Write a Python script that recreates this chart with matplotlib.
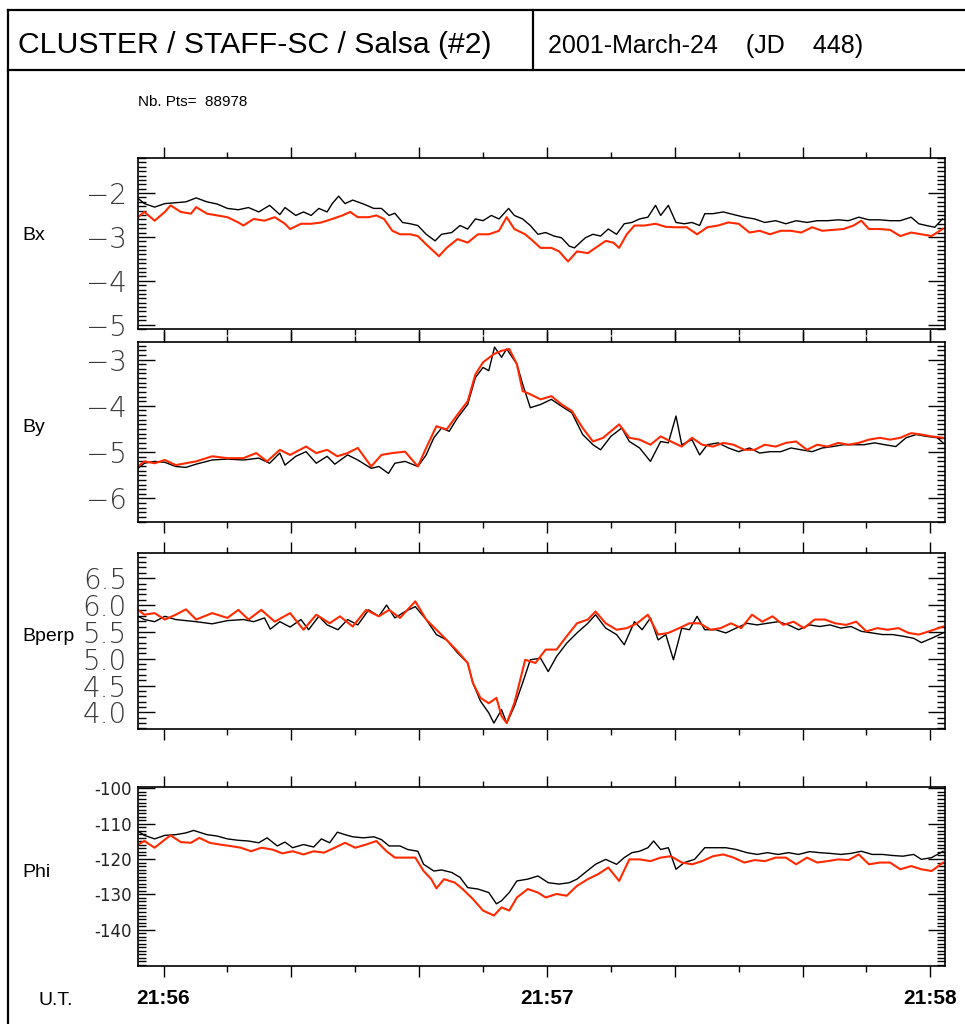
import matplotlib
matplotlib.use("Agg")
import matplotlib.pyplot as plt
from matplotlib.ticker import MultipleLocator, FixedLocator, FuncFormatter
from matplotlib.lines import Line2D

# time axis: seconds after 21:56:00 UT
bx_black_t = [-4.0, -3.0, -1.4, 0.2, 1.9, 3.5, 5.1, 6.8, 8.4, 10.0, 11.7, 13.3, 14.9, 16.6, 18.2, 19.0, 20.7, 21.9, 23.1, 24.3,
              25.6, 26.4, 27.4, 28.4, 29.6, 31.3, 32.9, 34.1, 35.3, 36.2, 37.4, 38.6, 39.8, 41.1, 42.5, 43.5, 45.1, 46.4, 47.6, 48.8,
              50.0, 51.3, 52.5, 54.0, 54.9, 56.2, 57.4, 58.6, 59.8, 61.1, 62.3, 63.5, 64.3, 66.0, 67.2, 68.4, 69.6, 70.9, 72.1, 73.3,
              74.5, 75.8, 77.0, 77.8, 79.0, 80.2, 81.5, 82.7, 83.9, 84.7, 86.0, 87.6, 89.2, 90.9, 92.5, 94.1, 95.8, 97.4, 99.0, 100.7,
              102.3, 103.9, 105.6, 107.2, 108.8, 110.4, 112.1, 113.7, 115.3, 117.0, 118.2, 119.4, 120.7, 121.9]
bx_black = [-2.12, -2.24, -2.32, -2.24, -2.22, -2.20, -2.11, -2.20, -2.25, -2.35, -2.38, -2.33, -2.43, -2.28, -2.49, -2.33, -2.51, -2.43, -2.51, -2.35,
            -2.43, -2.24, -2.07, -2.24, -2.16, -2.25, -2.35, -2.35, -2.51, -2.46, -2.67, -2.70, -2.74, -2.94, -3.09, -2.94, -2.90, -2.74, -2.82, -2.59,
            -2.63, -2.51, -2.59, -2.35, -2.51, -2.59, -2.74, -2.94, -2.90, -2.98, -3.02, -3.21, -3.25, -3.02, -2.94, -2.98, -2.82, -2.94, -2.70, -2.67,
            -2.59, -2.55, -2.28, -2.51, -2.28, -2.67, -2.70, -2.67, -2.74, -2.47, -2.47, -2.43, -2.49, -2.55, -2.59, -2.67, -2.63, -2.70, -2.63, -2.67,
            -2.63, -2.63, -2.61, -2.63, -2.55, -2.61, -2.61, -2.63, -2.63, -2.55, -2.70, -2.74, -2.78, -2.59]
bx_red_t = [-4.0, -3.0, -1.4, 0.2, 1.1, 2.7, 4.3, 5.1, 6.8, 8.4, 10.0, 11.7, 12.5, 14.1, 15.8, 17.4, 19.0, 19.8, 21.5, 23.1,
            24.7, 26.4, 28.0, 29.2, 30.4, 32.1, 33.3, 34.5, 35.8, 37.0, 38.6, 39.8, 41.1, 42.3, 43.1, 44.3, 46.0, 47.6, 49.2, 50.9,
            52.5, 53.7, 54.9, 56.6, 57.8, 59.0, 60.7, 61.9, 63.3, 64.7, 66.4, 68.0, 69.2, 70.4, 71.3, 72.5, 73.7, 75.3, 77.0, 78.6,
            80.2, 81.9, 83.5, 85.1, 86.8, 88.4, 90.0, 91.7, 93.3, 94.9, 96.6, 98.2, 99.8, 101.5, 103.1, 104.7, 106.4, 108.0, 109.2, 110.4,
            112.1, 113.7, 115.3, 117.0, 118.6, 120.2, 121.9]
bx_red = [-2.55, -2.43, -2.63, -2.43, -2.28, -2.43, -2.47, -2.32, -2.47, -2.51, -2.55, -2.67, -2.74, -2.59, -2.63, -2.55, -2.70, -2.82, -2.70, -2.70,
          -2.67, -2.59, -2.51, -2.43, -2.55, -2.55, -2.51, -2.59, -2.86, -2.94, -2.94, -2.98, -3.17, -3.33, -3.44, -3.25, -3.05, -3.13, -2.94, -2.94,
          -2.86, -2.55, -2.82, -2.94, -3.09, -3.25, -3.25, -3.33, -3.56, -3.33, -3.37, -3.21, -3.09, -3.13, -3.25, -2.94, -2.74, -2.74, -2.70, -2.77,
          -2.78, -2.78, -2.94, -2.78, -2.74, -2.67, -2.70, -2.90, -2.86, -2.94, -2.86, -2.86, -2.90, -2.78, -2.86, -2.84, -2.82, -2.74, -2.63, -2.82,
          -2.82, -2.84, -2.98, -2.90, -2.94, -2.98, -2.82]

by_black_t = [-4.0, -3.0, -1.4, 0.2, 1.9, 3.5, 5.1, 7.6, 10.0, 12.5, 14.9, 16.6, 18.2, 19.0, 20.7, 22.3, 23.9, 25.6, 26.8, 28.8,
              30.4, 32.5, 33.7, 35.2, 36.2, 37.8, 39.8, 41.1, 42.3, 43.5, 44.7, 46.0, 47.6, 48.8, 50.0, 50.9, 51.8, 52.9, 53.7, 55.3,
              56.2, 57.4, 59.0, 60.7, 62.3, 63.9, 65.6, 67.2, 68.4, 70.0, 71.7, 72.9, 74.5, 76.2, 77.8, 79.0, 80.2, 81.1, 82.7, 83.9,
              85.1, 86.8, 88.4, 90.0, 91.7, 93.3, 94.9, 96.6, 98.2, 99.8, 101.5, 103.1, 104.7, 106.4, 108.0, 109.6, 111.3, 112.9, 114.6, 116.2,
              117.8, 119.4, 121.1, 122.0]
by_black = [-5.35, -5.24, -5.20, -5.22, -5.31, -5.33, -5.26, -5.17, -5.15, -5.17, -5.13, -5.24, -5.02, -5.28, -5.09, -4.99, -5.24, -5.09, -5.26, -5.06,
            -5.17, -5.35, -5.31, -5.46, -5.24, -5.20, -5.31, -5.06, -4.69, -4.48, -4.55, -4.26, -3.97, -3.39, -3.17, -3.24, -2.73, -2.95, -2.77, -3.10,
            -3.53, -4.04, -3.97, -3.86, -4.01, -4.15, -4.62, -4.84, -4.95, -4.66, -4.48, -4.77, -4.91, -5.20, -4.77, -4.80, -4.22, -4.84, -4.73, -5.06,
            -4.84, -4.80, -4.91, -4.99, -4.91, -5.02, -4.99, -4.99, -4.91, -4.95, -4.99, -4.91, -4.88, -4.84, -4.84, -4.84, -4.80, -4.84, -4.88, -4.69,
            -4.62, -4.66, -4.69, -4.80]
by_red_t = [-4.0, -3.0, -1.4, 0.2, 1.9, 3.5, 5.1, 7.6, 10.0, 12.5, 14.5, 16.2, 18.2, 19.8, 22.3, 23.9, 25.6, 27.2, 28.8, 30.4,
            32.5, 34.1, 35.8, 37.8, 39.8, 41.1, 42.7, 44.3, 46.0, 47.6, 48.8, 50.0, 51.7, 52.9, 54.1, 55.3, 56.2, 57.4, 59.0, 60.7,
            62.3, 63.9, 65.6, 67.2, 68.8, 70.0, 71.3, 72.9, 74.5, 76.2, 77.8, 79.4, 81.1, 82.7, 84.3, 86.0, 87.6, 89.2, 90.9, 92.5,
            94.1, 95.8, 97.4, 99.0, 100.7, 102.3, 103.9, 105.6, 107.2, 108.8, 110.4, 112.1, 113.7, 115.3, 117.0, 118.6, 120.2, 122.0]
by_red = [-5.31, -5.20, -5.24, -5.17, -5.28, -5.24, -5.20, -5.09, -5.13, -5.13, -5.02, -5.20, -4.95, -5.06, -4.88, -5.02, -4.95, -5.09, -5.02, -4.91,
          -5.31, -5.06, -5.02, -4.99, -5.31, -4.91, -4.44, -4.51, -4.19, -3.90, -3.32, -3.06, -2.88, -2.81, -2.77, -3.10, -3.68, -3.75, -3.86, -3.79,
          -3.97, -4.11, -4.48, -4.77, -4.69, -4.55, -4.40, -4.69, -4.73, -4.84, -4.66, -4.77, -4.88, -4.69, -4.84, -4.88, -4.80, -4.84, -4.95, -4.95,
          -4.84, -4.88, -4.80, -4.77, -4.95, -4.84, -4.88, -4.80, -4.84, -4.80, -4.73, -4.69, -4.73, -4.69, -4.59, -4.62, -4.66, -4.69]

bperp_black_t = [-4.0, -3.0, -1.4, 0.2, 1.9, 3.5, 5.1, 7.6, 10.0, 12.5, 14.1, 15.8, 16.7, 18.2, 19.8, 21.5, 22.7, 24.3, 25.6, 27.3,
                 28.8, 30.4, 32.1, 33.7, 34.9, 36.2, 37.8, 39.4, 41.1, 42.7, 44.3, 46.0, 47.6, 48.4, 49.6, 50.9, 51.7, 52.9, 53.7, 54.9,
                 56.2, 57.4, 59.0, 60.2, 61.5, 63.1, 64.7, 66.4, 67.6, 69.2, 70.9, 72.1, 73.7, 74.9, 76.2, 77.4, 78.6, 79.8, 81.1, 82.3,
                 83.5, 84.7, 86.4, 88.0, 89.6, 91.3, 92.9, 94.5, 96.2, 97.8, 99.4, 101.1, 102.7, 104.3, 106.0, 107.6, 109.2, 110.9, 112.5, 114.1,
                 115.7, 117.4, 118.6, 120.2, 122.0]
bperp_black = [5.79, 5.73, 5.69, 5.79, 5.73, 5.71, 5.69, 5.65, 5.71, 5.73, 5.69, 5.76, 5.55, 5.69, 5.59, 5.73, 5.54, 5.79, 5.63, 5.54,
               5.73, 5.63, 5.91, 5.79, 6.00, 5.76, 5.88, 5.97, 5.73, 5.45, 5.35, 5.11, 4.92, 4.55, 4.21, 3.99, 3.80, 4.05, 3.80, 4.11,
               4.55, 4.98, 5.01, 4.76, 5.04, 5.29, 5.48, 5.66, 5.82, 5.57, 5.45, 5.26, 5.69, 5.54, 5.76, 5.35, 5.45, 4.98, 5.57, 5.54,
               5.79, 5.54, 5.54, 5.48, 5.57, 5.66, 5.63, 5.66, 5.69, 5.63, 5.54, 5.63, 5.60, 5.63, 5.57, 5.60, 5.51, 5.48, 5.45, 5.45,
               5.42, 5.38, 5.30, 5.38, 5.48]
bperp_red_t = [-4.0, -3.0, -1.4, 0.2, 1.9, 3.5, 5.1, 7.6, 10.0, 11.7, 13.3, 15.3, 17.4, 19.8, 21.9, 23.9, 26.0, 27.6, 29.6, 31.7,
               33.7, 35.3, 37.0, 39.4, 41.1, 42.7, 44.3, 46.0, 47.6, 48.4, 49.6, 50.9, 52.1, 52.9, 53.7, 54.9, 56.6, 58.2, 59.8, 61.5,
               63.1, 64.7, 66.4, 67.6, 69.2, 70.9, 72.5, 74.1, 75.8, 77.4, 79.0, 80.7, 82.3, 83.9, 85.6, 87.2, 88.8, 90.4, 92.1, 93.7,
               95.3, 97.0, 98.6, 100.2, 101.9, 103.5, 105.1, 106.8, 108.4, 110.0, 111.7, 113.3, 115.0, 116.6, 118.2, 119.8, 122.0]
bperp_red = [5.91, 5.82, 5.85, 5.73, 5.82, 5.92, 5.73, 5.85, 5.76, 5.91, 5.73, 5.91, 5.69, 5.85, 5.54, 5.82, 5.66, 5.79, 5.60, 5.91,
             5.79, 5.91, 5.76, 6.07, 5.73, 5.54, 5.35, 5.14, 4.92, 4.55, 4.27, 4.17, 4.27, 3.93, 3.80, 4.17, 4.98, 4.92, 5.17, 5.17,
             5.42, 5.66, 5.73, 5.88, 5.66, 5.54, 5.57, 5.66, 5.82, 5.45, 5.48, 5.57, 5.66, 5.66, 5.54, 5.57, 5.66, 5.57, 5.82, 5.69,
             5.79, 5.63, 5.69, 5.57, 5.73, 5.73, 5.66, 5.63, 5.69, 5.51, 5.57, 5.54, 5.57, 5.48, 5.45, 5.51, 5.60]

phi_black_t = [-4.0, -3.0, -1.4, 0.2, 1.9, 3.5, 4.7, 6.8, 8.4, 10.0, 11.7, 13.3, 14.9, 16.2, 17.8, 19.0, 20.2, 21.9, 23.5, 24.7,
               26.0, 27.2, 28.4, 29.6, 31.3, 32.9, 34.1, 35.3, 37.0, 38.2, 39.8, 40.7, 42.3, 43.5, 45.1, 46.4, 47.6, 49.2, 50.9, 52.1,
               52.9, 54.1, 55.3, 57.0, 58.6, 60.2, 61.9, 63.5, 64.7, 66.0, 67.6, 69.2, 70.9, 72.1, 73.3, 74.5, 75.8, 76.7, 77.8, 79.0,
               80.2, 81.5, 83.1, 84.7, 86.4, 88.0, 89.6, 91.3, 92.9, 94.5, 96.2, 97.8, 99.4, 101.1, 102.7, 104.3, 106.0, 107.6, 109.2, 110.9,
               112.5, 114.1, 115.7, 117.4, 118.6, 120.2, 122.0]
phi_black = [-112.1, -113.3, -114.3, -113.3, -113.1, -112.6, -111.9, -113.1, -113.5, -114.3, -114.7, -114.9, -115.4, -114.0, -116.3, -115.2, -116.8, -115.9, -116.6, -114.3,
             -115.4, -112.4, -113.1, -113.7, -114.0, -113.7, -114.5, -116.3, -116.3, -117.3, -117.8, -121.5, -123.4, -123.1, -123.8, -125.2, -128.1, -128.5, -129.5, -132.7,
             -131.8, -129.5, -126.2, -125.7, -124.8, -126.7, -127.1, -126.7, -125.7, -123.8, -121.5, -120.1, -121.5, -119.6, -118.2, -117.8, -116.8, -114.9, -117.3, -116.8,
             -122.9, -121.0, -120.1, -116.8, -116.8, -116.8, -117.3, -118.2, -118.7, -118.2, -118.7, -118.2, -118.7, -117.9, -118.2, -118.4, -118.7, -118.4, -117.8, -118.7,
             -118.7, -119.0, -119.2, -118.7, -120.1, -119.6, -117.8]
phi_red_t = [-4.0, -3.0, -1.4, 0.2, 1.1, 2.7, 4.3, 5.6, 7.2, 8.8, 10.4, 12.1, 13.7, 15.3, 17.0, 18.6, 20.2, 21.9, 23.5, 25.1,
             26.8, 28.4, 30.0, 31.7, 33.3, 34.9, 36.2, 37.8, 39.4, 40.7, 41.9, 42.7, 43.9, 45.6, 46.8, 48.4, 50.0, 51.7, 52.9, 54.1,
             55.3, 57.0, 58.6, 59.8, 61.5, 63.1, 64.7, 66.4, 68.0, 69.6, 71.3, 72.9, 74.5, 76.2, 77.8, 79.4, 81.1, 82.7, 84.3, 86.0,
             87.6, 89.2, 90.9, 92.5, 94.1, 95.8, 97.4, 99.0, 100.7, 102.3, 103.9, 105.6, 107.2, 108.8, 110.4, 112.1, 113.7, 115.3, 117.0, 118.6,
             120.2, 122.0]
phi_red = [-115.9, -114.9, -116.8, -114.5, -113.3, -115.2, -115.4, -114.0, -115.4, -115.9, -116.3, -116.8, -117.8, -116.8, -117.3, -118.4, -117.8, -118.7, -117.8, -118.2,
           -116.8, -115.4, -116.8, -115.9, -114.9, -117.8, -119.6, -119.6, -119.6, -123.4, -125.7, -128.3, -125.7, -126.7, -128.5, -131.3, -134.6, -136.0, -133.7, -134.6,
           -130.9, -128.5, -129.5, -130.9, -129.9, -130.4, -127.6, -125.7, -124.3, -122.4, -126.2, -120.1, -120.1, -120.6, -119.6, -119.2, -121.0, -121.5, -120.6, -119.2,
           -118.7, -119.6, -121.0, -120.3, -120.6, -119.6, -119.6, -121.5, -119.6, -121.0, -120.6, -120.1, -120.3, -118.7, -121.5, -121.0, -121.0, -122.9, -122.0, -122.9,
           -123.4, -121.0]

time_ticks = [0, 60, 120]
time_labels = ["21:56", "21:57", "21:58"]
panel_names = ["Bx", "By", "Bperp", "Phi"]

W, H = 965, 1024
fig = plt.figure(figsize=(W / 100, H / 100), dpi=100)
FONT = ["Liberation Sans", "DejaVu Sans"]


def px_box(left, top, right, bottom):
    return [left / W, 1 - bottom / H, (right - left) / W, (bottom - top) / H]


def fig_line(x0, y0, x1, y1, lw=1.6):
    fig.add_artist(Line2D([x0 / W, x1 / W], [1 - y0 / H, 1 - y1 / H], color="black", lw=lw))


# header frame
fig_line(8, 10, W, 10)
fig_line(8, 70, W, 70)
fig_line(8, 10, 8, H)
fig_line(533, 10, 533, 70)
fig.text(18 / W, 1 - 53 / H, "CLUSTER / STAFF-SC / Salsa (#2)", fontsize=21.7, family=FONT, va="baseline")
fig.text(548 / W, 1 - 53 / H, "2001-March-24    (JD    448)", fontsize=18, family=FONT, va="baseline")
fig.text(138 / W, 1 - 106 / H, "Nb. Pts=  88978", fontsize=11, family=FONT, va="baseline")

panels = [
    (bx_black_t, bx_black, bx_red_t, bx_red, (-5.1, -1.2), 1, 0.1, 158, 329, 240, 20),
    (by_black_t, by_black, by_red_t, by_red, (-6.51, -2.62), 1, 0.1, 342, 522, 432, 20),
    (bperp_black_t, bperp_black, bperp_red_t, bperp_red, (3.69, 6.97), 0.5, 0.1, 553, 729, 641, 20),
    (phi_black_t, phi_black, phi_red_t, phi_red, (-150.3, -99.6), 10, 1, 787, 966, 877, 12),
]

for i, (tk, vk, tr, vr, ylim, major, minor, top, bottom, label_y, fsz) in enumerate(panels):
    ax = fig.add_axes(px_box(138, top, 945, bottom))
    ax.plot(tk, vk, color="black", lw=1.0)
    ax.plot(tr, vr, color="#ff2a00", lw=1.5)
    ax.set_xlim(-4.0, 122.3)
    ax.set_ylim(*ylim)
    for s in ax.spines.values():
        s.set_linewidth(1.2)
    ax.xaxis.set_major_locator(MultipleLocator(20))
    ax.xaxis.set_minor_locator(MultipleLocator(10))
    ax.tick_params(axis="x", which="both", direction="out", top=True, bottom=True,
                   labelbottom=False, width=1)
    ax.tick_params(axis="x", which="major", length=8)
    ax.tick_params(axis="x", which="minor", length=4)
    if i == 3:
        ax.yaxis.set_major_locator(FixedLocator([-140, -130, -120, -110, -100]))
        ax.yaxis.set_major_formatter(FuncFormatter(lambda v, p: "%d" % v))
        pad = 4.5
        lcol = "#222222"
    elif i == 2:
        ax.yaxis.set_major_locator(MultipleLocator(major))
        ax.yaxis.set_major_formatter(FuncFormatter(lambda v, p: "%.1f" % v))
        pad = 8
        lcol = "#3a3a3a"
    else:
        ax.yaxis.set_major_locator(MultipleLocator(major))
        ax.yaxis.set_major_formatter(FuncFormatter(lambda v, p: "\u2212%d" % abs(round(v))))
        pad = 8
        lcol = "#3a3a3a"
    ax.yaxis.set_minor_locator(MultipleLocator(minor))
    ax.tick_params(axis="y", which="both", direction="in", left=True, right=True, width=1)
    ax.tick_params(axis="y", which="major", length=12, pad=pad, labelsize=fsz, labelcolor=lcol)
    ax.tick_params(axis="y", which="minor", length=6)
    if i != 3:
        for lab in ax.get_yticklabels():
            lab.set_fontweight("light")
    fig.text(22 / W, 1 - label_y / H, panel_names[i], fontsize=14, family=FONT, va="baseline")
    if i == 3:
        for t, lab in zip(time_ticks, time_labels):
            ax.text(t, -0.215, lab, transform=ax.get_xaxis_transform(), ha="center",
                    va="baseline", fontsize=15, fontweight="bold", family=FONT)

fig.text(39 / W, 1 - 1005 / H, "U.T.", fontsize=14, family=FONT, va="baseline")

fig.savefig("out.png", dpi=100, facecolor="white")
